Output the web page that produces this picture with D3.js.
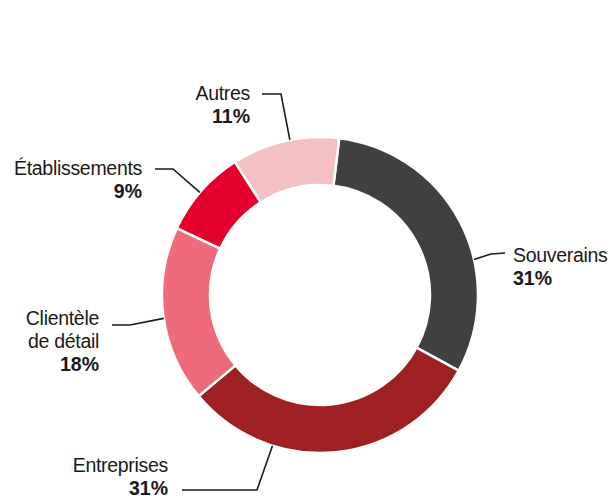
<!DOCTYPE html>
<html>
<head>
<meta charset="utf-8">
<script src="https://cdn.jsdelivr.net/npm/d3@7"></script>
<style>
  body { margin: 0; background: #fff; }
  text { font-family: "Liberation Sans", Arial, sans-serif; fill: #1a1a1a; }
</style>
</head>
<body>
<div id="chart"></div>
<script>
// donnees
var categories = ["Souverains", "Entreprises", "Clientèle de détail", "Établissements", "Autres"];
var valeurs = [31, 31, 18, 9, 11];
var couleurs = ["#40403e", "#9e2023", "#ed6b7a", "#e4002b", "#f5c0c4"];

// etiquettes: lignes de texte + position des traits (annotation)
var etiquettes = [
  { lignes: ["Souverains"], ang: 77, coude: [491, 254], fin: [505, 253], tx: 513, ty: 262, ancre: "start" },
  { lignes: ["Entreprises"], ang: 197.5, coude: [257, 490], fin: [182, 490], tx: 168, ty: 472, ancre: "end" },
  { lignes: ["Clientèle", "de détail"], ang: 261.5, coude: [130, 325], fin: [112, 325], tx: 99, ty: 325, ancre: "end" },
  { lignes: ["Établissements"], ang: 310.5, coude: [173, 169], fin: [155, 169], tx: 142, ty: 175, ancre: "end" },
  { lignes: ["Autres"], ang: 349, coude: [281, 94], fin: [262, 94], tx: 250, ty: 100, ancre: "end" }
];

var width = 611, height = 496;
var cx = 320, cy = 295;
var rExt = 158, rInt = 110;
var interligne = 23;

var svg = d3.select("#chart")
  .append("svg")
    .attr("width", width)
    .attr("height", height);

var g = svg.append("g")
  .attr("transform", "translate(" + cx + "," + cy + ")");

var debut = 7 * Math.PI / 180;
var pie = d3.pie()
  .sort(null)
  .value(function(d) { return d; })
  .startAngle(debut)
  .endAngle(debut + 2 * Math.PI);

var arc = d3.arc()
  .innerRadius(rInt)
  .outerRadius(rExt);

g.selectAll("path.part")
  .data(pie(valeurs))
  .enter()
  .append("path")
    .attr("class", "part")
    .attr("d", arc)
    .attr("fill", function(d, i) { return couleurs[i]; })
    .attr("stroke", "#fff")
    .attr("stroke-width", 2.5);

// traits de rappel
etiquettes.forEach(function(e, i) {
  var a = e.ang * Math.PI / 180;
  var px = cx + Math.sin(a) * rExt;
  var py = cy - Math.cos(a) * rExt;
  svg.append("polyline")
    .attr("points", [[px, py], e.coude, e.fin].map(function(p) { return p.join(","); }).join(" "))
    .attr("fill", "none")
    .attr("stroke", "#1a1a1a")
    .attr("stroke-width", 1.6);

  var t = svg.append("text")
    .attr("text-anchor", e.ancre)
    .attr("font-size", 19.5);
  e.lignes.forEach(function(l, k) {
    t.append("tspan")
      .attr("x", e.tx)
      .attr("y", e.ty + k * interligne)
      .style("letter-spacing", "-0.3px")
      .text(l);
  });
  t.append("tspan")
    .attr("x", e.tx)
    .attr("y", e.ty + e.lignes.length * interligne)
    .attr("font-weight", "bold")
    .text(valeurs[i] + "%");
});
</script>
</body>
</html>
